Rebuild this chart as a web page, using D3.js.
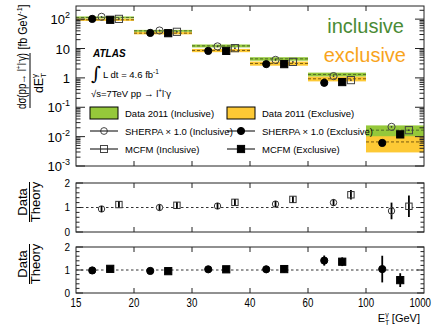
<!DOCTYPE html>
<html>
<head>
<meta charset="utf-8">
<script src="https://cdn.jsdelivr.net/npm/d3@7"></script>
<style>
  body { margin: 0; background: #fff; }
  text { font-family: "Liberation Sans", Arial, sans-serif; fill: #000; }
</style>
</head>
<body>
<div id="chart"></div>
<script>
// bin edges in E_T^gamma [GeV]
var binEdges = ["15", "20", "30", "40", "60", "100", "1000"];

// cross sections, fb/GeV
var dataIncl    = [114, 40, 12.3, 4.45, 1.31, 0.0166];
var dataInclErr = [9, 3, 1.4, 0.6, 0.2, 0.0075];
var dataExcl    = [95, 33.3, 8.6, 3.1, 0.93, 0.0066];
var dataExclErr = [8, 3, 1.1, 0.5, 0.17, 0.0037];
var sherpaIncl  = [120, 41, 11.8, 4.1, 1.15, 0.0215];
var sherpaExcl  = [102, 34, 8.3, 2.94, 0.68, 0.0061];
var mcfmIncl    = [102, 37, 10.3, 3.5, 0.84, 0.0166];
var mcfmExcl    = [95, 33.3, 8.3, 2.94, 0.72, 0.0119];

// data / theory
var ratioSherpaIncl    = [0.94, 1.0, 1.06, 1.14, 1.2, 0.86];
var ratioSherpaInclErr = [0.07, 0.06, 0.07, 0.09, 0.14, 0.34];
var ratioMcfmIncl      = [1.12, 1.09, 1.21, 1.33, 1.52, 1.05];
var ratioMcfmInclErr   = [0.08, 0.07, 0.08, 0.1, 0.19, 0.44];
var ratioSherpaExcl    = [0.98, 0.96, 1.03, 1.03, 1.41, 1.04];
var ratioSherpaExclErr = [0.06, 0.06, 0.06, 0.15, 0.22, 0.58];
var ratioMcfmExcl      = [1.05, 0.95, 1.03, 1.04, 1.36, 0.56];
var ratioMcfmExclErr   = [0.06, 0.06, 0.06, 0.15, 0.19, 0.3];

var width = 436, height = 326;
var green = "#95c83a", yellow = "#fdc935";

var svg = d3.select("#chart").append("svg")
  .attr("width", width)
  .attr("height", height);

var x = d3.scaleLinear().domain([0, binEdges.length - 1]).range([76, 424]);
var yTop = d3.scaleLog().domain([1e-3, 280]).range([166, 6]);
var yMid = d3.scaleLinear().domain([0, 2]).range([232, 183]);
var yBot = d3.scaleLinear().domain([0, 2]).range([293, 247]);

var bins = d3.range(binEdges.length - 1);
// marker positions inside a bin
var pos = { sherpaExcl: 0.28, sherpaIncl: 0.44, mcfmExcl: 0.59, mcfmIncl: 0.74 };

// ---------- top panel ----------
var topG = svg.append("g");

function band(vals, errs, color) {
  topG.selectAll(null)
    .data(bins).enter()
    .append("rect")
      .attr("x", function(i) { return x(i); })
      .attr("width", function(i) { return x(i + 1) - x(i); })
      .attr("y", function(i) { return yTop(vals[i] + errs[i]); })
      .attr("height", function(i) { return yTop(vals[i] - errs[i]) - yTop(vals[i] + errs[i]); })
      .style("fill", color);
}
function bandLine(vals, color) {
  topG.selectAll(null)
    .data(bins).enter()
    .append("line")
      .attr("x1", function(i) { return x(i); })
      .attr("x2", function(i) { return x(i + 1); })
      .attr("y1", function(i) { return yTop(vals[i]); })
      .attr("y2", function(i) { return yTop(vals[i]); })
      .style("stroke", color)
      .style("stroke-width", 1)
      .style("stroke-dasharray", "3,2");
}
band(dataIncl, dataInclErr, green);
band(dataExcl, dataExclErr, yellow);
bandLine(dataIncl, "#4f6b2a");
bandLine(dataExcl, "#7a5a10");

function marker(g, type, cx, cy, dot) {
  if (type === "circle" || type === "ocircle") {
    g.append("circle").attr("cx", cx).attr("cy", cy).attr("r", 3.6)
      .style("fill", type === "circle" ? "#000" : "none")
      .style("stroke", type === "circle" ? "#000" : "#444")
      .style("stroke-width", 1);
  } else {
    g.append("rect").attr("x", cx - 3.6).attr("y", cy - 3.6)
      .attr("width", 7.2).attr("height", 7.2)
      .style("fill", type === "square" ? "#000" : "none")
      .style("stroke", type === "square" ? "#000" : "#444")
      .style("stroke-width", 1);
  }
  if (dot) g.append("circle").attr("cx", cx).attr("cy", cy).attr("r", 0.9).style("fill", "#333");
}

bins.forEach(function(i) {
  marker(topG, "circle", x(i + pos.sherpaExcl), yTop(sherpaExcl[i]));
  marker(topG, "ocircle", x(i + pos.sherpaIncl), yTop(sherpaIncl[i]), true);
  marker(topG, "square", x(i + pos.mcfmExcl), yTop(mcfmExcl[i]));
  marker(topG, "osquare", x(i + pos.mcfmIncl), yTop(mcfmIncl[i]), true);
});

// frame and axes
function frame(y0, y1) {
  svg.append("rect").attr("x", 76).attr("y", y0)
    .attr("width", 348).attr("height", y1 - y0)
    .style("fill", "none").style("stroke", "#222").style("stroke-width", 1);
  bins.slice(1).forEach(function(i) {
    svg.append("line").attr("x1", x(i)).attr("x2", x(i)).attr("y1", y1).attr("y2", y1 - 5)
      .style("stroke", "#222");
    svg.append("line").attr("x1", x(i)).attr("x2", x(i)).attr("y1", y0).attr("y2", y0 + 5)
      .style("stroke", "#222");
  });
}
frame(6, 166);
frame(183, 232);
frame(247, 293);

// log ticks
var logTicks = [];
for (var e = -3; e <= 2; e++) {
  for (var m = 1; m <= 9; m++) {
    var v = m * Math.pow(10, e);
    if (v <= 280) logTicks.push({ v: v, major: m === 1 });
  }
}
logTicks.forEach(function(t) {
  var len = t.major ? 9 : 4.5;
  svg.append("line").attr("x1", 76).attr("x2", 76 + len)
    .attr("y1", yTop(t.v)).attr("y2", yTop(t.v)).style("stroke", "#222");
  svg.append("line").attr("x1", 424).attr("x2", 424 - len)
    .attr("y1", yTop(t.v)).attr("y2", yTop(t.v)).style("stroke", "#222");
});
var decadeLabels = [[100, "10", "2"], [10, "10", ""], [1, "1", ""], [0.1, "10", "-1"], [0.01, "10", "-2"], [0.001, "10", "-3"]];
decadeLabels.forEach(function(d) {
  var t = svg.append("text").attr("x", 70).attr("y", yTop(d[0]) + 5)
    .attr("text-anchor", "end").style("font-size", "13px");
  t.append("tspan").text(d[1]);
  if (d[2]) {
    t.append("tspan").attr("dy", -6).style("font-size", "9px").text(d[2]);
  }
});

// ratio axes
function ratioAxis(y) {
  d3.range(0, 2.01, 0.2).forEach(function(v) {
    var major = Math.abs(v - Math.round(v)) < 1e-6;
    var len = major ? 7 : 3.5;
    svg.append("line").attr("x1", 76).attr("x2", 76 + len).attr("y1", y(v)).attr("y2", y(v)).style("stroke", "#222");
    svg.append("line").attr("x1", 424).attr("x2", 424 - len).attr("y1", y(v)).attr("y2", y(v)).style("stroke", "#222");
  });
  [0, 1, 2].forEach(function(v) {
    svg.append("text").attr("x", 70).attr("y", y(v) + 3.5)
      .attr("text-anchor", "end").style("font-size", "10px").text(v);
  });
  svg.append("line").attr("x1", 76).attr("x2", 424).attr("y1", y(1)).attr("y2", y(1))
    .style("stroke", "#333").style("stroke-dasharray", "2.5,2.5");
}
ratioAxis(yMid);
ratioAxis(yBot);

function ratioPoints(y, vals, errs, p, type) {
  var g = svg.append("g");
  bins.forEach(function(i) {
    var cx = x(i + p);
    g.append("line").attr("x1", cx).attr("x2", cx)
      .attr("y1", y(vals[i] - errs[i])).attr("y2", y(vals[i] + errs[i]))
      .style("stroke", "#000").style("stroke-width", 1.8);
    if (type === "ocircle") {
      g.append("circle").attr("cx", cx).attr("cy", y(vals[i])).attr("r", 3.2)
        .style("fill", "#fff").style("stroke", "#333");
      g.append("line").attr("x1", cx).attr("x2", cx).attr("y1", y(vals[i]) - 3).attr("y2", y(vals[i]) + 3)
        .style("stroke", "#000").style("stroke-width", 1.8);
    } else if (type === "osquare") {
      g.append("rect").attr("x", cx - 3.2).attr("y", y(vals[i]) - 3.2).attr("width", 6.4).attr("height", 6.4)
        .style("fill", "#fff").style("stroke", "#333");
      g.append("line").attr("x1", cx).attr("x2", cx).attr("y1", y(vals[i]) - 3).attr("y2", y(vals[i]) + 3)
        .style("stroke", "#000").style("stroke-width", 1.8);
    } else {
      marker(g, type, cx, y(vals[i]));
    }
  });
}
ratioPoints(yMid, ratioSherpaIncl, ratioSherpaInclErr, pos.sherpaIncl, "ocircle");
ratioPoints(yMid, ratioMcfmIncl, ratioMcfmInclErr, pos.mcfmIncl, "osquare");
ratioPoints(yBot, ratioSherpaExcl, ratioSherpaExclErr, pos.sherpaExcl, "circle");
ratioPoints(yBot, ratioMcfmExcl, ratioMcfmExclErr, pos.mcfmExcl, "square");

// x tick labels (narrow, like the original font); anchored at their right end
svg.selectAll(null).data(binEdges).enter()
  .append("text")
    .attr("x", function(d, i) { return Math.min(x(i) + d.length * 2.7, 431); })
    .attr("y", 307)
    .attr("text-anchor", "end")
    .attr("textLength", function(d) { return d.length * 5.4; })
    .attr("lengthAdjust", "spacingAndGlyphs")
    .style("font-size", "12px")
    .text(function(d) { return d; });

var xt = svg.append("text").attr("x", 420).attr("y", 322).attr("text-anchor", "end").style("font-size", "11px");
xt.append("tspan").text("E");
xt.append("tspan").attr("dy", 3).style("font-size", "7px").text("T");
xt.append("tspan").attr("dy", -8).attr("dx", -4).style("font-size", "7px").text("γ");
xt.append("tspan").attr("dy", 5).text(" [GeV]");

// y labels
var num = svg.append("text").attr("transform", "translate(26,81) rotate(-90)")
  .attr("text-anchor", "middle").style("font-size", "12px")
  .attr("textLength", 56).attr("lengthAdjust", "spacingAndGlyphs");
num.append("tspan").text("dσ(pp→ l");
num.append("tspan").attr("dy", -5).style("font-size", "8px").text("+");
num.append("tspan").attr("dy", 5).text("l");
num.append("tspan").attr("dy", -5).style("font-size", "8px").text("-");
num.append("tspan").attr("dy", 5).text("γ)");
svg.append("line").attr("x1", 30).attr("x2", 30).attr("y1", 53).attr("y2", 108)
  .style("stroke", "#000").style("stroke-width", 1);
var den = svg.append("text").attr("transform", "translate(43,83) rotate(-90)")
  .attr("text-anchor", "middle").style("font-size", "12.5px");
den.append("tspan").text("dE");
den.append("tspan").attr("dy", 3).style("font-size", "8px").text("T");
den.append("tspan").attr("dy", -9).attr("dx", -5).style("font-size", "8px").text("γ");
var unit = svg.append("text").attr("transform", "translate(27,27) rotate(-90)")
  .attr("text-anchor", "middle").style("font-size", "12px")
  .attr("textLength", 45).attr("lengthAdjust", "spacingAndGlyphs");
unit.append("tspan").text("[fb GeV");
unit.append("tspan").attr("dy", -5).style("font-size", "8px").text("-1");
unit.append("tspan").attr("dy", 5).text("]");

function dataTheory(cy) {
  svg.append("text").attr("transform", "translate(27," + cy + ") rotate(-90)")
    .attr("text-anchor", "middle").style("font-size", "13px").text("Data");
  svg.append("line").attr("x1", 29.5).attr("x2", 29.5).attr("y1", cy - 20).attr("y2", cy + 20)
    .style("stroke", "#000");
  svg.append("text").attr("transform", "translate(40," + cy + ") rotate(-90)")
    .attr("text-anchor", "middle").style("font-size", "13px").text("Theory");
}
dataTheory(202);
dataTheory(264);

// big labels
svg.append("text").attr("x", 404).attr("y", 33).attr("text-anchor", "end")
  .style("font-size", "20px").style("fill", "#4a8b35").text("inclusive");
svg.append("text").attr("x", 406).attr("y", 62).attr("text-anchor", "end")
  .style("font-size", "20px").style("fill", "#f8a41c").text("exclusive");

// ATLAS text
svg.append("text").attr("x", 93).attr("y", 57).style("font-size", "10px")
  .style("font-weight", "bold").style("font-style", "italic").text("ATLAS");
svg.append("text").attr("x", 91).attr("y", 80).style("font-size", "19px")
  .style("font-family", "DejaVu Serif").text("∫");
var lum = svg.append("text").attr("x", 103).attr("y", 78).style("font-size", "9.5px");
lum.append("tspan").text("L dt = 4.6 fb");
lum.append("tspan").attr("dy", -4).style("font-size", "6.5px").text("-1");
var sq = svg.append("text").attr("x", 91).attr("y", 97).style("font-size", "9.5px");
sq.append("tspan").text("√s=7TeV  pp → l");
sq.append("tspan").attr("dy", -4).style("font-size", "6.5px").text("+");
sq.append("tspan").attr("dy", 4).text("l");
sq.append("tspan").attr("dy", -4).style("font-size", "6.5px").text("-");
sq.append("tspan").attr("dy", 4).text("γ");

// legend
var legendCols = [
  { x: 90, box: green, label: ["Data 2011 (Inclusive)", "SHERPA × 1.0 (Inclusive)", "MCFM (Inclusive)"], m: ["ocircle", "osquare"] },
  { x: 227, box: yellow, label: ["Data 2011 (Exclusive)", "SHERPA × 1.0 (Exclusive)", "MCFM (Exclusive)"], m: ["circle", "square"] }
];
var rowsY = [113, 131, 149];
legendCols.forEach(function(c) {
  svg.append("rect").attr("x", c.x).attr("y", 107).attr("width", 28).attr("height", 12)
    .style("fill", c.box).style("stroke", "#000").style("stroke-width", 1);
  [1, 2].forEach(function(r) {
    svg.append("line").attr("x1", c.x).attr("x2", c.x + 28).attr("y1", rowsY[r]).attr("y2", rowsY[r])
      .style("stroke", "#000");
    var isOpen = c.m[r - 1].charAt(0) === "o";
    if (isOpen) {
      if (c.m[r - 1] === "ocircle") svg.append("circle").attr("cx", c.x + 14).attr("cy", rowsY[r]).attr("r", 3.4).style("fill", "#fff").style("stroke", "#444");
      else svg.append("rect").attr("x", c.x + 10.5).attr("y", rowsY[r] - 3.5).attr("width", 7).attr("height", 7).style("fill", "#fff").style("stroke", "#444");
      svg.append("line").attr("x1", c.x + 10.5).attr("x2", c.x + 17.5).attr("y1", rowsY[r]).attr("y2", rowsY[r]).style("stroke", "#000");
    } else {
      marker(svg, c.m[r - 1], c.x + 14, rowsY[r]);
    }
  });
  c.label.forEach(function(l, r) {
    svg.append("text").attr("x", c.x + 35).attr("y", rowsY[r] + 3.5)
      .style("font-size", "9.5px").text(l);
  });
});
</script>
</body>
</html>
